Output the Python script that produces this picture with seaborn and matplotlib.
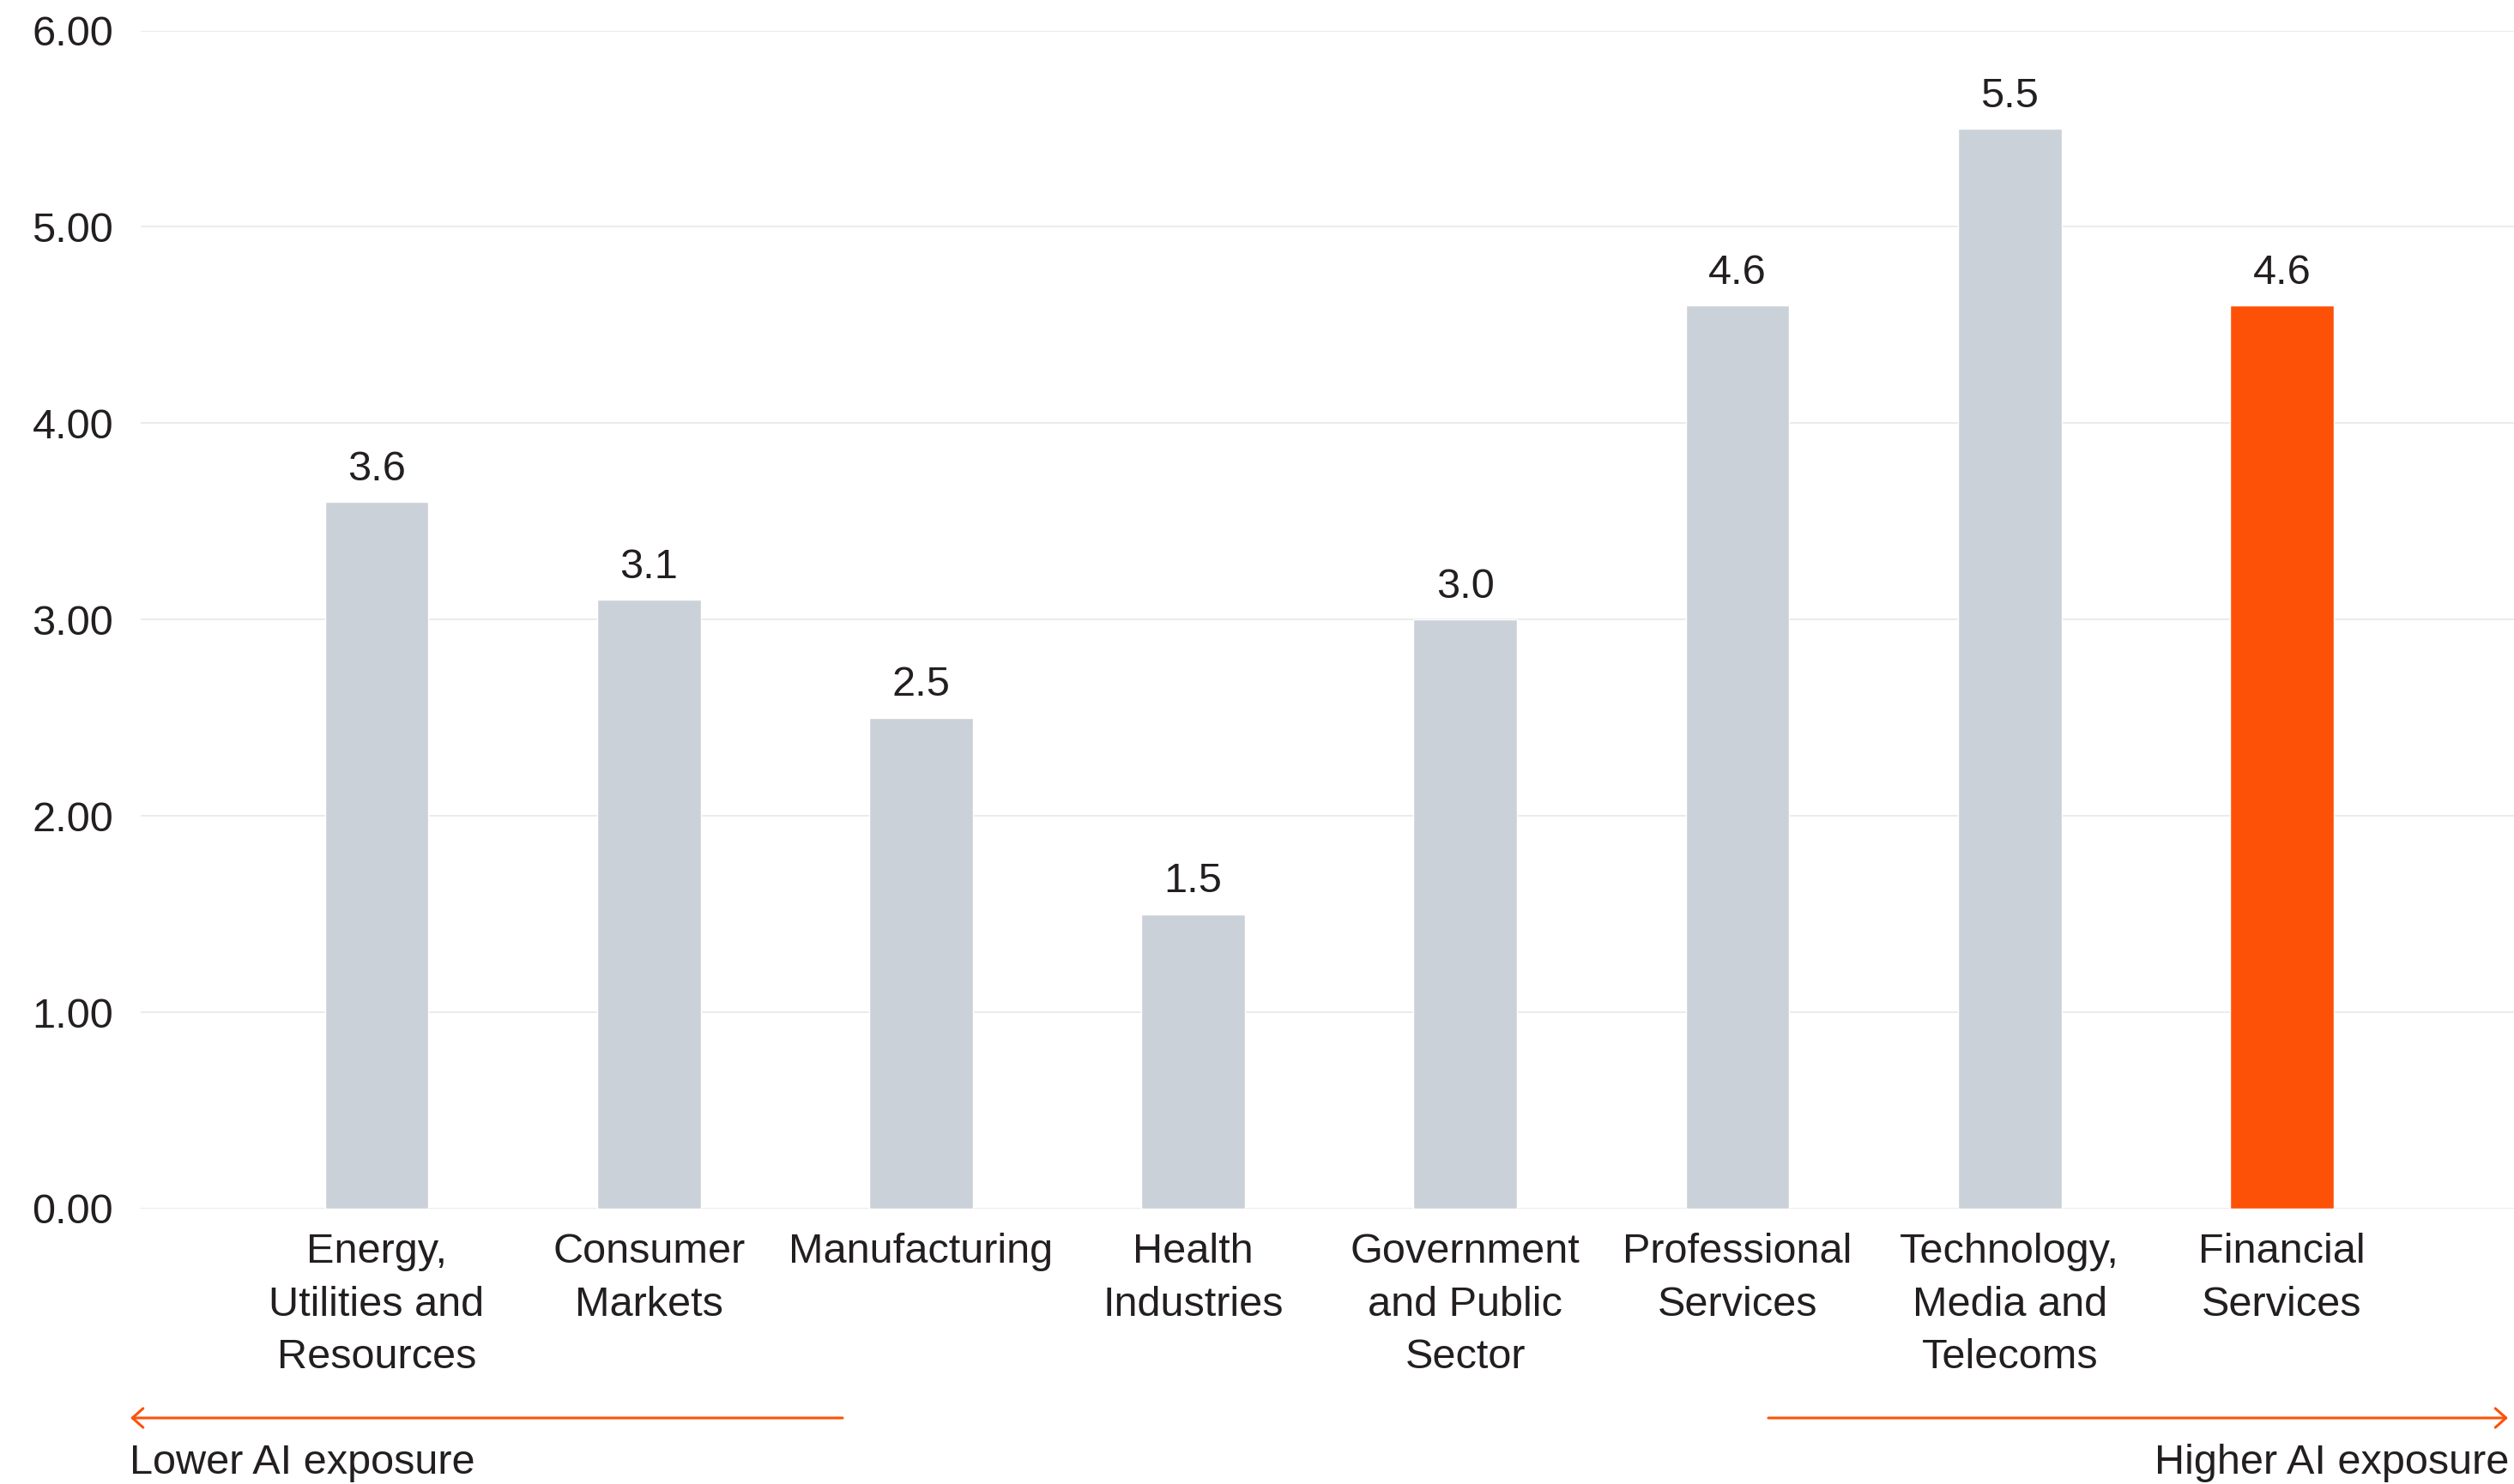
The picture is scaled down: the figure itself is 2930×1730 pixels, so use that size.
import matplotlib
matplotlib.use("Agg")
import matplotlib.pyplot as plt
import seaborn as sns
import pandas as pd

# Sectors (ordered from lower to higher AI exposure) and their values
sectors = [
    "Energy,\nUtilities and\nResources",
    "Consumer\nMarkets",
    "Manufacturing",
    "Health\nIndustries",
    "Government\nand Public\nSector",
    "Professional\nServices",
    "Technology,\nMedia and\nTelecoms",
    "Financial\nServices",
]
values = [3.6, 3.1, 2.5, 1.5, 3.0, 4.6, 5.5, 4.6]
highlight_sector = "Financial\nServices"
y_ticks = [0, 1, 2, 3, 4, 5, 6]
y_tick_labels = ["0.00", "1.00", "2.00", "3.00", "4.00", "5.00", "6.00"]
lower_label = "Lower AI exposure"
higher_label = "Higher AI exposure"

GREY = "#CBD1D8"
ORANGE = "#FD5108"
TEXT = "#231F20"
GRID = "#EBEBEB"
FS = 35

sns.set_theme(style="white")
plt.rcParams["font.family"] = ["Liberation Sans", "DejaVu Sans"]

W, H = 2930, 1730
fig = plt.figure(figsize=(W / 100, H / 100), dpi=100)
ax = fig.add_axes([164 / W, 1 - 1409 / H, (W - 164) / W, (1409 - 35.5) / H])

df = pd.DataFrame({"sector": sectors, "value": values})
palette = {s: (ORANGE if s == highlight_sector else GREY) for s in sectors}
sns.barplot(data=df, x="sector", y="value", hue="sector", palette=palette,
            width=0.381, saturation=1, legend=False, ax=ax)

ax.set_xlim(-0.867, 7.853)
ax.set_ylim(0, 6)
ax.set_yticks(y_ticks)
ax.set_yticklabels(y_tick_labels)
ax.set_xticks(range(len(sectors)))
ax.set_xticklabels(sectors, linespacing=1.48)
ax.set_xlabel("")
ax.set_ylabel("")

ax.yaxis.grid(True, color=GRID, linewidth=1.4)
ax.xaxis.grid(False)
ax.set_axisbelow(True)
sns.despine(ax=ax, left=True, bottom=True)
ax.tick_params(axis="both", length=0, labelsize=FS, labelcolor=TEXT)
ax.tick_params(axis="y", pad=23)
ax.tick_params(axis="x", pad=20)

# Value labels on top of each bar
for container in ax.containers:
    ax.bar_label(container, fmt="%.1f", padding=11, fontsize=FS, color=TEXT)

# Exposure direction arrows below the axis
y_arrow = 1 - 1653 / H
arrow_kw = dict(arrowstyle="->,head_length=0.9,head_width=0.8", color=ORANGE,
                lw=2.2, mutation_scale=10, shrinkA=0, shrinkB=0)
fig.add_artist(matplotlib.patches.FancyArrowPatch(
    (982 / W, y_arrow), (152 / W, y_arrow), transform=fig.transFigure, **arrow_kw))
fig.add_artist(matplotlib.patches.FancyArrowPatch(
    (2061 / W, y_arrow), (2923 / W, y_arrow), transform=fig.transFigure, **arrow_kw))

y_text = 1 - 1718 / H
fig.text(151 / W, y_text, lower_label, ha="left", va="baseline", fontsize=FS, color=TEXT)
fig.text(2924 / W, y_text, higher_label, ha="right", va="baseline", fontsize=FS, color=TEXT)

fig.savefig("out.png", dpi=100)
